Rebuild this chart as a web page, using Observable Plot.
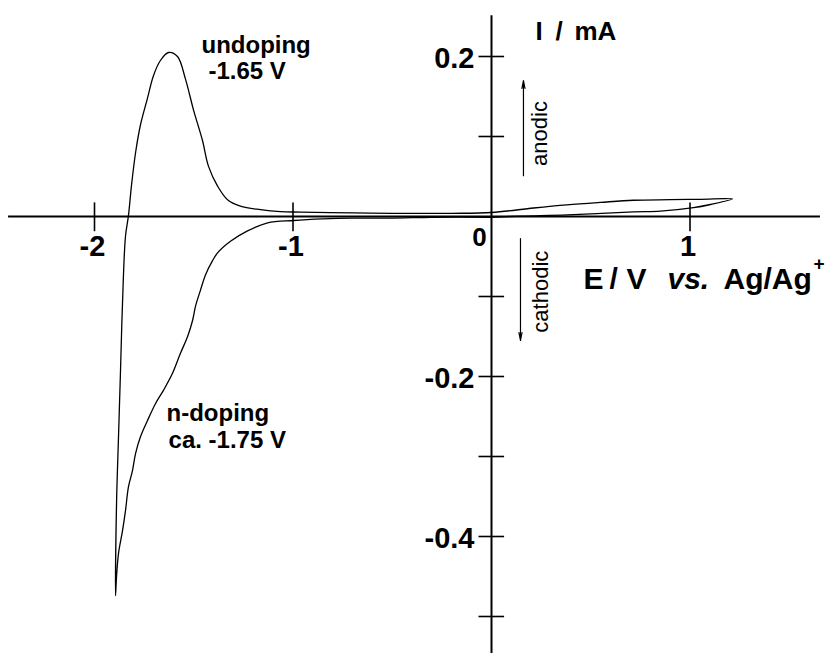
<!DOCTYPE html>
<html>
<head>
<meta charset="utf-8">
<script src="https://cdn.jsdelivr.net/npm/d3@7"></script>
<script src="https://cdn.jsdelivr.net/npm/@observablehq/plot@0.6"></script>
<style>
  html, body { margin: 0; padding: 0; background: #fff; }
  #chart { width: 832px; height: 653px; }
</style>
</head>
<body>
<div id="chart"></div>
<script>
// ---- Cyclic voltammogram (path order): E / V vs. Ag/Ag+ and I / mA ----
const cvPotential = [
  0.0, -0.3, -0.5, -0.7, -0.85, -0.997, -1.128, -1.229, -1.315, -1.380, -1.406, -1.441, -1.466,
  -1.491, -1.506, -1.531, -1.567, -1.607, -1.652, -1.693, -1.733, -1.768, -1.793, -1.809,
  -1.829, -1.844, -1.859, -1.879, -1.889, -1.894,
  -1.889, -1.879, -1.869, -1.859, -1.844, -1.829, -1.814, -1.793, -1.768, -1.733, -1.703,
  -1.668, -1.627, -1.582, -1.542, -1.501, -1.456, -1.426, -1.380, -1.330, -1.265, -1.164,
  -1.063, -0.962, -0.7, -0.5, -0.2, 0.0,
  0.212, 0.38, 0.549, 0.715, 0.9, 1.053, 1.214,
  1.103, 1.018, 0.851, 0.715, 0.383, 0.15, 0.0
];
const cvCurrent = [
  -0.001, -0.001, -0.002, -0.002, -0.003, -0.005, -0.008, -0.018, -0.031, -0.0455, -0.0555, -0.073, -0.092,
  -0.112, -0.130, -0.150, -0.171, -0.196, -0.217, -0.234, -0.255, -0.275, -0.296, -0.318,
  -0.338, -0.368, -0.393, -0.421, -0.450, -0.474,
  -0.359, -0.275, -0.193, -0.109, -0.025, 0.001, 0.038, 0.080, 0.115, 0.148, 0.176,
  0.195, 0.205, 0.200, 0.172, 0.133, 0.095, 0.063, 0.038, 0.021, 0.013, 0.0085,
  0.006, 0.0055, 0.0045, 0.004, 0.004, 0.005,
  0.0106, 0.0145, 0.0176, 0.0203, 0.021, 0.0215, 0.022,
  0.015, 0.011, 0.0067, 0.0058, 0.002, 0.0005, -0.001
];

// ---- Axes ----
const xTicks = [-2, -1, 1];
const xTickLabels = ["-2", "-1", "1"];
const originLabel = ["0"];
const yTicks = [0.2, 0.1, -0.1, -0.2, -0.3, -0.4, -0.5];
const yLabelValues = [0.2, -0.2, -0.4];
const yTickLabels = ["0.2", "-0.2", "-0.4"];
const xAxisExtent = [-2.433, 1.657];
const yAxisExtent = [-0.55, 0.251];

// axis titles, split into pieces (text and anchor)
const yTitleParts = ["I", "/", "mA"];
const yTitleE = [0.2217, 0.3224, 0.4181];
const yTitleI = 0.221;
const xTitleParts = ["E", "/", "V", "Ag/Ag"];
const xTitleE = [0.4635, 0.5945, 0.6801, 1.1688];
const xTitleItalic = ["vs."];
const xTitleItalicE = [0.8866];
const xTitleSup = ["+"];
const xTitleSupE = [1.622];
const xTitleI = -0.0912;

// ---- Annotations ----
const annotationTexts = ["undoping", "-1.65 V", "n-doping", "ca. -1.75 V"];
const annotationE = [-1.461, -1.426, -1.637, -1.627];
const annotationI = [0.204, 0.1725, -0.255, -0.289];

const directionTexts = ["anodic", "cathodic"];
const directionE = [0.242, 0.247];
const directionI = [0.1038, -0.094];
const arrowE = [0.161, 0.146];
const arrowFrom = [0.051, -0.0275];
const arrowTo = [0.170, -0.155];

// ---- Build tables ----
const cv = cvPotential.map((e, i) => ({E: e, I: cvCurrent[i]}));
const xLab = xTicks.map((v, i) => ({v, t: xTickLabels[i]}));
const yLab = yLabelValues.map((v, i) => ({v, t: yTickLabels[i]}));
const ann = annotationTexts.map((t, i) => ({t, E: annotationE[i], I: annotationI[i]}));
const dir = directionTexts.map((t, i) => ({t, E: directionE[i], I: directionI[i]}));
const arrows = arrowE.map((e, i) => ({E: e, I1: arrowFrom[i], I2: arrowTo[i]}));
const yTitle = yTitleParts.map((t, i) => ({t, E: yTitleE[i], I: yTitleI}));
const xTitle = xTitleParts.map((t, i) => ({t, E: xTitleE[i], I: xTitleI}));
const xTitleIt = xTitleItalic.map((t, i) => ({t, E: xTitleItalicE[i], I: xTitleI}));
const xTitleS = xTitleSup.map((t, i) => ({t, E: xTitleSupE[i], I: xTitleI}));

// scale geometry (pixel layout of the figure)
const W = 832, H = 653;
const X0 = 491, PX_PER_V = 198.5, Y0 = 216, PX_PER_MA = 800;
const FONT = "'Liberation Sans', Arial, Helvetica, sans-serif";
const K = "#000";

const chart = Plot.plot({
  width: W,
  height: H,
  margin: 0,
  x: {domain: [-X0 / PX_PER_V, (W - X0) / PX_PER_V], axis: null},
  y: {domain: [-(H - Y0) / PX_PER_MA, Y0 / PX_PER_MA], axis: null},
  style: {fontFamily: FONT, background: "#fff", color: K},
  marks: [
    // axes lines
    Plot.ruleY([0], {x1: xAxisExtent[0], x2: xAxisExtent[1], stroke: K, strokeWidth: 2}),
    Plot.ruleX([0], {y1: yAxisExtent[0], y2: yAxisExtent[1], stroke: K, strokeWidth: 2}),
    // tick marks
    Plot.ruleY(yTicks, {x1: -0.063, x2: 0.066, stroke: K, strokeWidth: 1.6}),
    Plot.ruleX(xTicks, {y1: -0.019, y2: 0.017, stroke: K, strokeWidth: 1.6}),
    // tick labels
    Plot.text(xLab, {x: "v", y: 0, text: "t", dy: 30, dx: -2, fontSize: 29, fontWeight: "bold", fill: K}),
    Plot.text(originLabel, {x: 0, y: 0, text: d => d, dx: -12, dy: 21, fontSize: 26, fontWeight: "bold", fill: K}),
    Plot.text(yLab, {x: 0, y: "v", text: "t", dx: -17, dy: 2, textAnchor: "end", fontSize: 29, fontWeight: "bold", fill: K}),
    // axis titles
    Plot.text(yTitle, {x: "E", y: "I", text: "t", textAnchor: "start", lineAnchor: "bottom", fontSize: 26, fontWeight: "bold", fill: K}),
    Plot.text(xTitle, {x: "E", y: "I", text: "t", textAnchor: "start", lineAnchor: "bottom", fontSize: 30, fontWeight: "bold", fill: K}),
    Plot.text(xTitleIt, {x: "E", y: "I", text: "t", textAnchor: "start", lineAnchor: "bottom", fontSize: 30, fontWeight: "bold", fontStyle: "italic", fill: K}),
    Plot.text(xTitleS, {x: "E", y: "I", text: "t", textAnchor: "start", lineAnchor: "bottom", dy: -19, fontSize: 19, fontWeight: "bold", fill: K}),
    // curve
    Plot.line(cv, {x: "E", y: "I", stroke: K, strokeWidth: 1.3, curve: "catmull-rom"}),
    // annotations
    Plot.text(ann, {x: "E", y: "I", text: "t", textAnchor: "start", lineAnchor: "bottom", fontSize: 24, fontWeight: "bold", fill: K}),
    Plot.text(dir, {x: "E", y: "I", text: "t", rotate: -90, fontSize: 22, fill: K}),
    Plot.arrow(arrows, {x1: "E", x2: "E", y1: "I1", y2: "I2", stroke: K, strokeWidth: 1.2, headLength: 10, headAngle: 22})
  ]
});

document.getElementById("chart").appendChild(chart);
</script>
</body>
</html>
